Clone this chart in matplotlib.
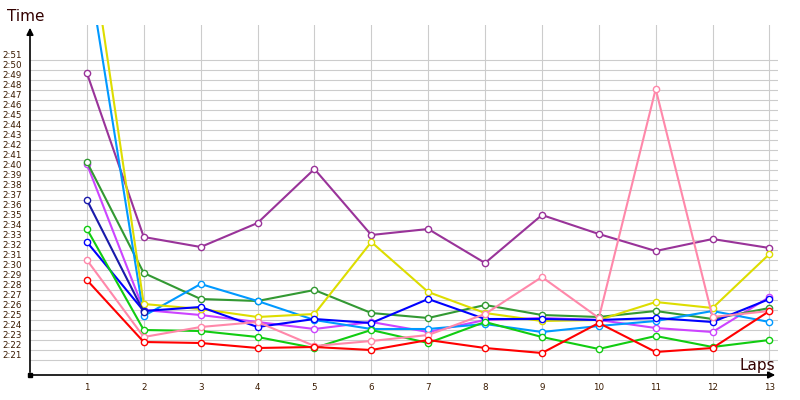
import matplotlib
matplotlib.use("Agg")
import matplotlib.pyplot as plt
from matplotlib.transforms import ScaledTranslation

# lap times in seconds (e.g. 149.0 = 2:29.0)
laps = list(range(1, 14))
purple = [169.7, 153.3, 152.3, 154.7, 160.1, 153.5, 154.1, 150.7, 155.5, 153.6, 151.9, 153.1, 152.2]
dark_green = [160.8, 149.7, 147.1, 146.9, 148.0, 145.7, 145.2, 146.5, 145.5, 145.3, 145.9, 145.1, 146.2]
light_blue = [180.9, 145.4, 148.6, 146.9, 145.0, 144.1, 144.1, 144.6, 143.8, 144.4, 144.9, 145.9, 144.8]
yellow = [185.1, 146.6, 146.1, 145.3, 145.6, 152.8, 147.8, 145.7, 144.9, 145.0, 146.8, 146.2, 151.6]
violet = [160.6, 146.0, 145.5, 144.8, 144.1, 144.8, 143.8, 145.0, 145.2, 145.0, 144.2, 143.8, 147.3]
blue = [152.8, 145.9, 146.3, 144.3, 145.1, 144.7, 147.1, 145.1, 145.1, 145.0, 145.2, 144.8, 147.1]
navy = [157.0, 145.8]
lime = [154.1, 144.0, 143.9, 143.3, 142.2, 144.0, 142.7, 144.8, 143.3, 142.1, 143.4, 142.3, 143.0]
pink = [151.0, 143.3, 144.3, 144.8, 142.4, 142.9, 143.5, 145.6, 149.3, 145.2, 168.1, 145.3, 145.9]
red = [149.0, 142.8, 142.7, 142.2, 142.3, 142.0, 143.0, 142.2, 141.7, 144.7, 141.8, 142.2, 145.9]

y_ticks = list(range(141, 172))
y_labels = ["2:%02d" % (s - 120) for s in y_ticks]

series = [
    (purple, "#993399"),
    (violet, "#cc44ff"),
    (dark_green, "#339933"),
    (light_blue, "#0099ff"),
    (yellow, "#dddd00"),
    (blue, "#0000ff"),
    (navy, "#1a1aaa"),
    (lime, "#11cc11"),
    (pink, "#ff88aa"),
    (red, "#ff0000"),
]

fig = plt.figure(figsize=(8, 4), dpi=100)
ax = fig.add_axes([30 / 800, 25 / 400, 748 / 800, 350 / 400])

for vals, col in series:
    ax.plot(laps[:len(vals)], vals, color=col, lw=1.5, marker="o", ms=4.5,
            mfc="white", mec=col, mew=1.0)

ax.set_xlim(0, 13.15)
ax.set_ylim(139.5, 174.5)
ax.set_xticks(laps)
ax.set_yticks(y_ticks)
ax.set_yticklabels(y_labels)
ax.grid(True, color="#cccccc", lw=0.8)
ax.set_axisbelow(True)
ax.tick_params(length=0, labelsize=6.3, labelcolor="#3a1a00")
ax.tick_params(axis="y", pad=6)
ax.tick_params(axis="x", pad=6)
for lab in ax.get_yticklabels():
    lab.set_transform(lab.get_transform() + ScaledTranslation(0, 0.05, fig.dpi_scale_trans))

for s in ax.spines.values():
    s.set_visible(False)

# axis arrows
ax.annotate("", xy=(0, 1), xytext=(0, 0), xycoords="axes fraction",
            arrowprops=dict(arrowstyle="-|>", color="black", lw=1.2, mutation_scale=10),
            annotation_clip=False)
ax.annotate("", xy=(1.0, 0), xytext=(0, 0), xycoords="axes fraction",
            arrowprops=dict(arrowstyle="-|>", color="black", lw=1.2, mutation_scale=10),
            annotation_clip=False)
ax.plot([0], [0], marker="s", ms=3, color="black", transform=ax.transAxes, clip_on=False)

fig.text(7 / 800, 1 - 21 / 400, "Time", fontsize=11, color="#330000", ha="left", va="baseline")
fig.text(775 / 800, 1 - 370 / 400, "Laps", fontsize=11, color="#330000", ha="right", va="baseline")

fig.savefig("out.png", dpi=100)
